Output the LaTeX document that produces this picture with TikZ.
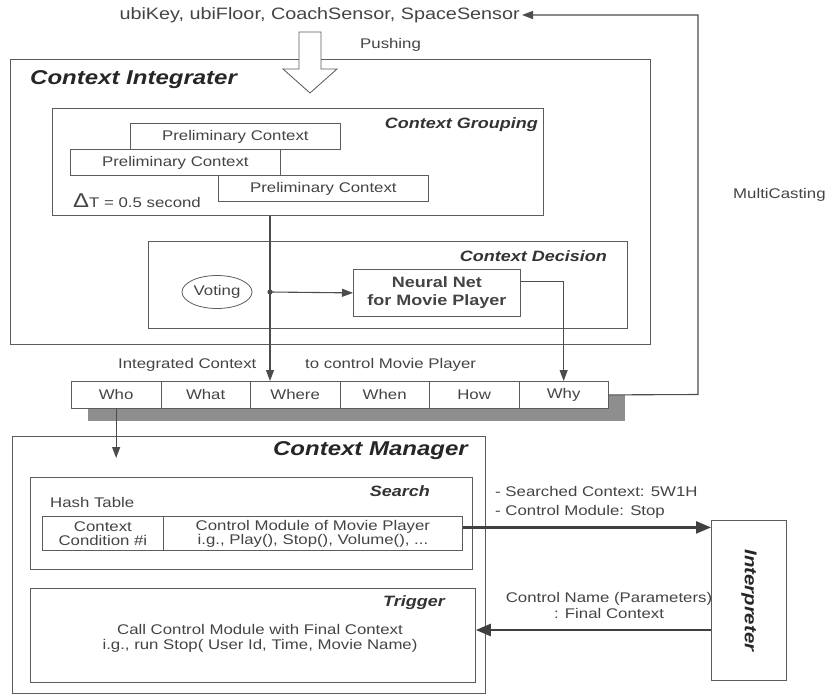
\documentclass[tikz,border=0pt]{standalone}
\usepackage{fontspec}
\setmainfont{Liberation Sans}[FakeStretch=1.2]
\usetikzlibrary{arrows.meta,positioning,shapes.geometric}
\definecolor{linegray}{HTML}{5C5C5C}
\definecolor{txtgray}{HTML}{444444}
\definecolor{shadowgray}{HTML}{8E8E8E}
\begin{document}
\begin{tikzpicture}[x=1pt,y=-1pt,
    box/.style={draw=linegray,line width=0.8pt,anchor=north west,inner sep=0pt},
    txt/.style={text=txtgray,font=\fontsize{14}{16}\selectfont,inner sep=0pt},
    head/.style={text=black!85,font=\fontsize{20}{22}\selectfont\bfseries\itshape,inner sep=0pt},
    subhead/.style={text=black!80,font=\fontsize{15}{17}\selectfont\bfseries\itshape,inner sep=0pt},
    cell/.style={box,fill=white,minimum width=89.5pt,minimum height=27pt,txt},
    arr/.style={draw=black!70,line width=1.1pt,-{Triangle[length=11pt,width=8pt]}},
    bigarr/.style={draw=black!75,line width=2.4pt,-{Triangle[length=15pt,width=12pt]}}]
    \path[fill=white,use as bounding box] (0,0) rectangle (829,695);
    \node[txt,font=\fontsize{16.5}{18}\selectfont,anchor=east] (sensors) at (520,15) {ubiKey, ubiFloor, CoachSensor, SpaceSensor};
    \node[txt,anchor=west] (push) at (360,45) {Pushing};
    % context integrater
    \node[box,minimum width=640pt,minimum height=285pt] (integ) at (10,59) {};
    \draw[linegray,line width=0.8pt,fill=white] (299,32) -- (321,32) -- (321,69) -- (337,69) -- (310,93) -- (283,69) -- (299,69) -- cycle;
    \node[head,anchor=west] (integlbl) at (30,80) {Context Integrater};
    \node[box,minimum width=491pt,minimum height=107pt] (group) at (52,108) {};
    \node[subhead,anchor=east] (grouplbl) at (538,125) {Context Grouping};
    \node[box,minimum width=210pt,minimum height=26pt,txt] (pre1) at (130,123) {Preliminary Context};
    \node[box,minimum width=210pt,minimum height=26pt,txt] (pre2) at (70,149) {Preliminary Context};
    \node[box,minimum width=210pt,minimum height=26pt,txt] (pre3) at (218,175) {Preliminary Context};
    \node[txt,anchor=west] (delta) at (73,201) {{\fontsize{20}{20}\selectfont Δ}T = 0.5 second};
    \node[box,minimum width=479pt,minimum height=87pt] (decis) at (148,241) {};
    \node[subhead,anchor=east] (decislbl) at (607,256) {Context Decision};
    \node[draw=linegray,line width=0.8pt,ellipse,minimum width=70pt,minimum height=33pt,txt] (vote) at (217,292) {Voting};
    \node[box,minimum width=167pt,minimum height=47pt,align=center,text=txtgray,font=\fontsize{15}{18}\selectfont\bfseries] (neural) at (353,269) {Neural Net\\for Movie Player};
    \coordinate (junc) at (270,292);
    % 5W1H cells
    \node[txt,anchor=west] (intlbl) at (118,365) {Integrated Context};
    \node[txt,anchor=west] (tolbl) at (305,365) {to control Movie Player};
    \fill[shadowgray] (88,395) rectangle (625,421);
    \foreach \nm/\lbl [count=\i from 0] in {who/Who,what/What,where/Where,when/When,how/How,why/Why}
        \node[cell] (\nm) at ({71+89.5*\i},381) {\lbl};
    \draw[arr] (junc |- group.south) -- (junc |- where.north);
    \fill[black!70] (junc) circle (2.6pt);
    \draw[arr] (junc) -- (neural.west);
    \draw[arr] ([yshift=11pt]neural.east) -| (why.north);
    \draw[arr] (why.east) -- (698,394.5) -- (698,15) -- ([xshift=2pt]sensors.east);
    \node[txt,anchor=west] (mcast) at (733,195) {MultiCasting};
    % context manager
    \node[box,minimum width=473pt,minimum height=257pt] (manager) at (12,436) {};
    \node[head,anchor=east] (managerlbl) at (468,451) {Context Manager};
    \draw[arr] (who.south) -- (who.south |- 0,458);
    \node[box,minimum width=442pt,minimum height=92pt] (search) at (30,477) {};
    \node[subhead,anchor=east] (searchlbl) at (430,491) {Search};
    \node[txt,anchor=west] (hashlbl) at (50,502) {Hash Table};
    \node[box,minimum width=121pt,minimum height=34pt,txt,align=center,font=\fontsize{14}{14}\selectfont] (hashL) at (42,516) {Context\\Condition \#i};
    \node[box,minimum width=299pt,minimum height=34pt,txt,align=center,font=\fontsize{14}{14}\selectfont] (hashR) at (163,516) {Control Module of Movie Player\\i.g., Play(), Stop(), Volume(), ...};
    \node[box,minimum width=445pt,minimum height=94pt] (trig) at (30,588) {};
    \node[subhead,anchor=east] (triglbl) at (445,603) {Trigger};
    \node[txt,align=center,font=\fontsize{14}{15}\selectfont] (trigtxt) at (260,638) {Call Control Module with Final Context\\i.g., run Stop( User Id, Time, Movie Name)};
    % interpreter
    \node[box,minimum width=75pt,minimum height=160pt] (interp) at (711,520) {};
    \node[head,font=\fontsize{17}{19}\selectfont\bfseries\itshape,rotate=-90] (interplbl) at (interp.center) {Interpreter};
    \draw[bigarr] ([yshift=6pt]hashR.east) -- ([yshift=6pt]hashR.east -| interp.west);
    \node[txt,anchor=west,align=left,font=\fontsize{14}{19}\selectfont] (searchtxt) at (495,502) {- Searched Context: 5W1H\\- Control Module: Stop};
    \draw[bigarr] (interp.west |- 0,630) -- (trig.east |- 0,630);
    \node[txt,align=center] (ctrltxt) at (609,605) {Control Name (Parameters)\\: Final Context};
\end{tikzpicture}
\end{document}
